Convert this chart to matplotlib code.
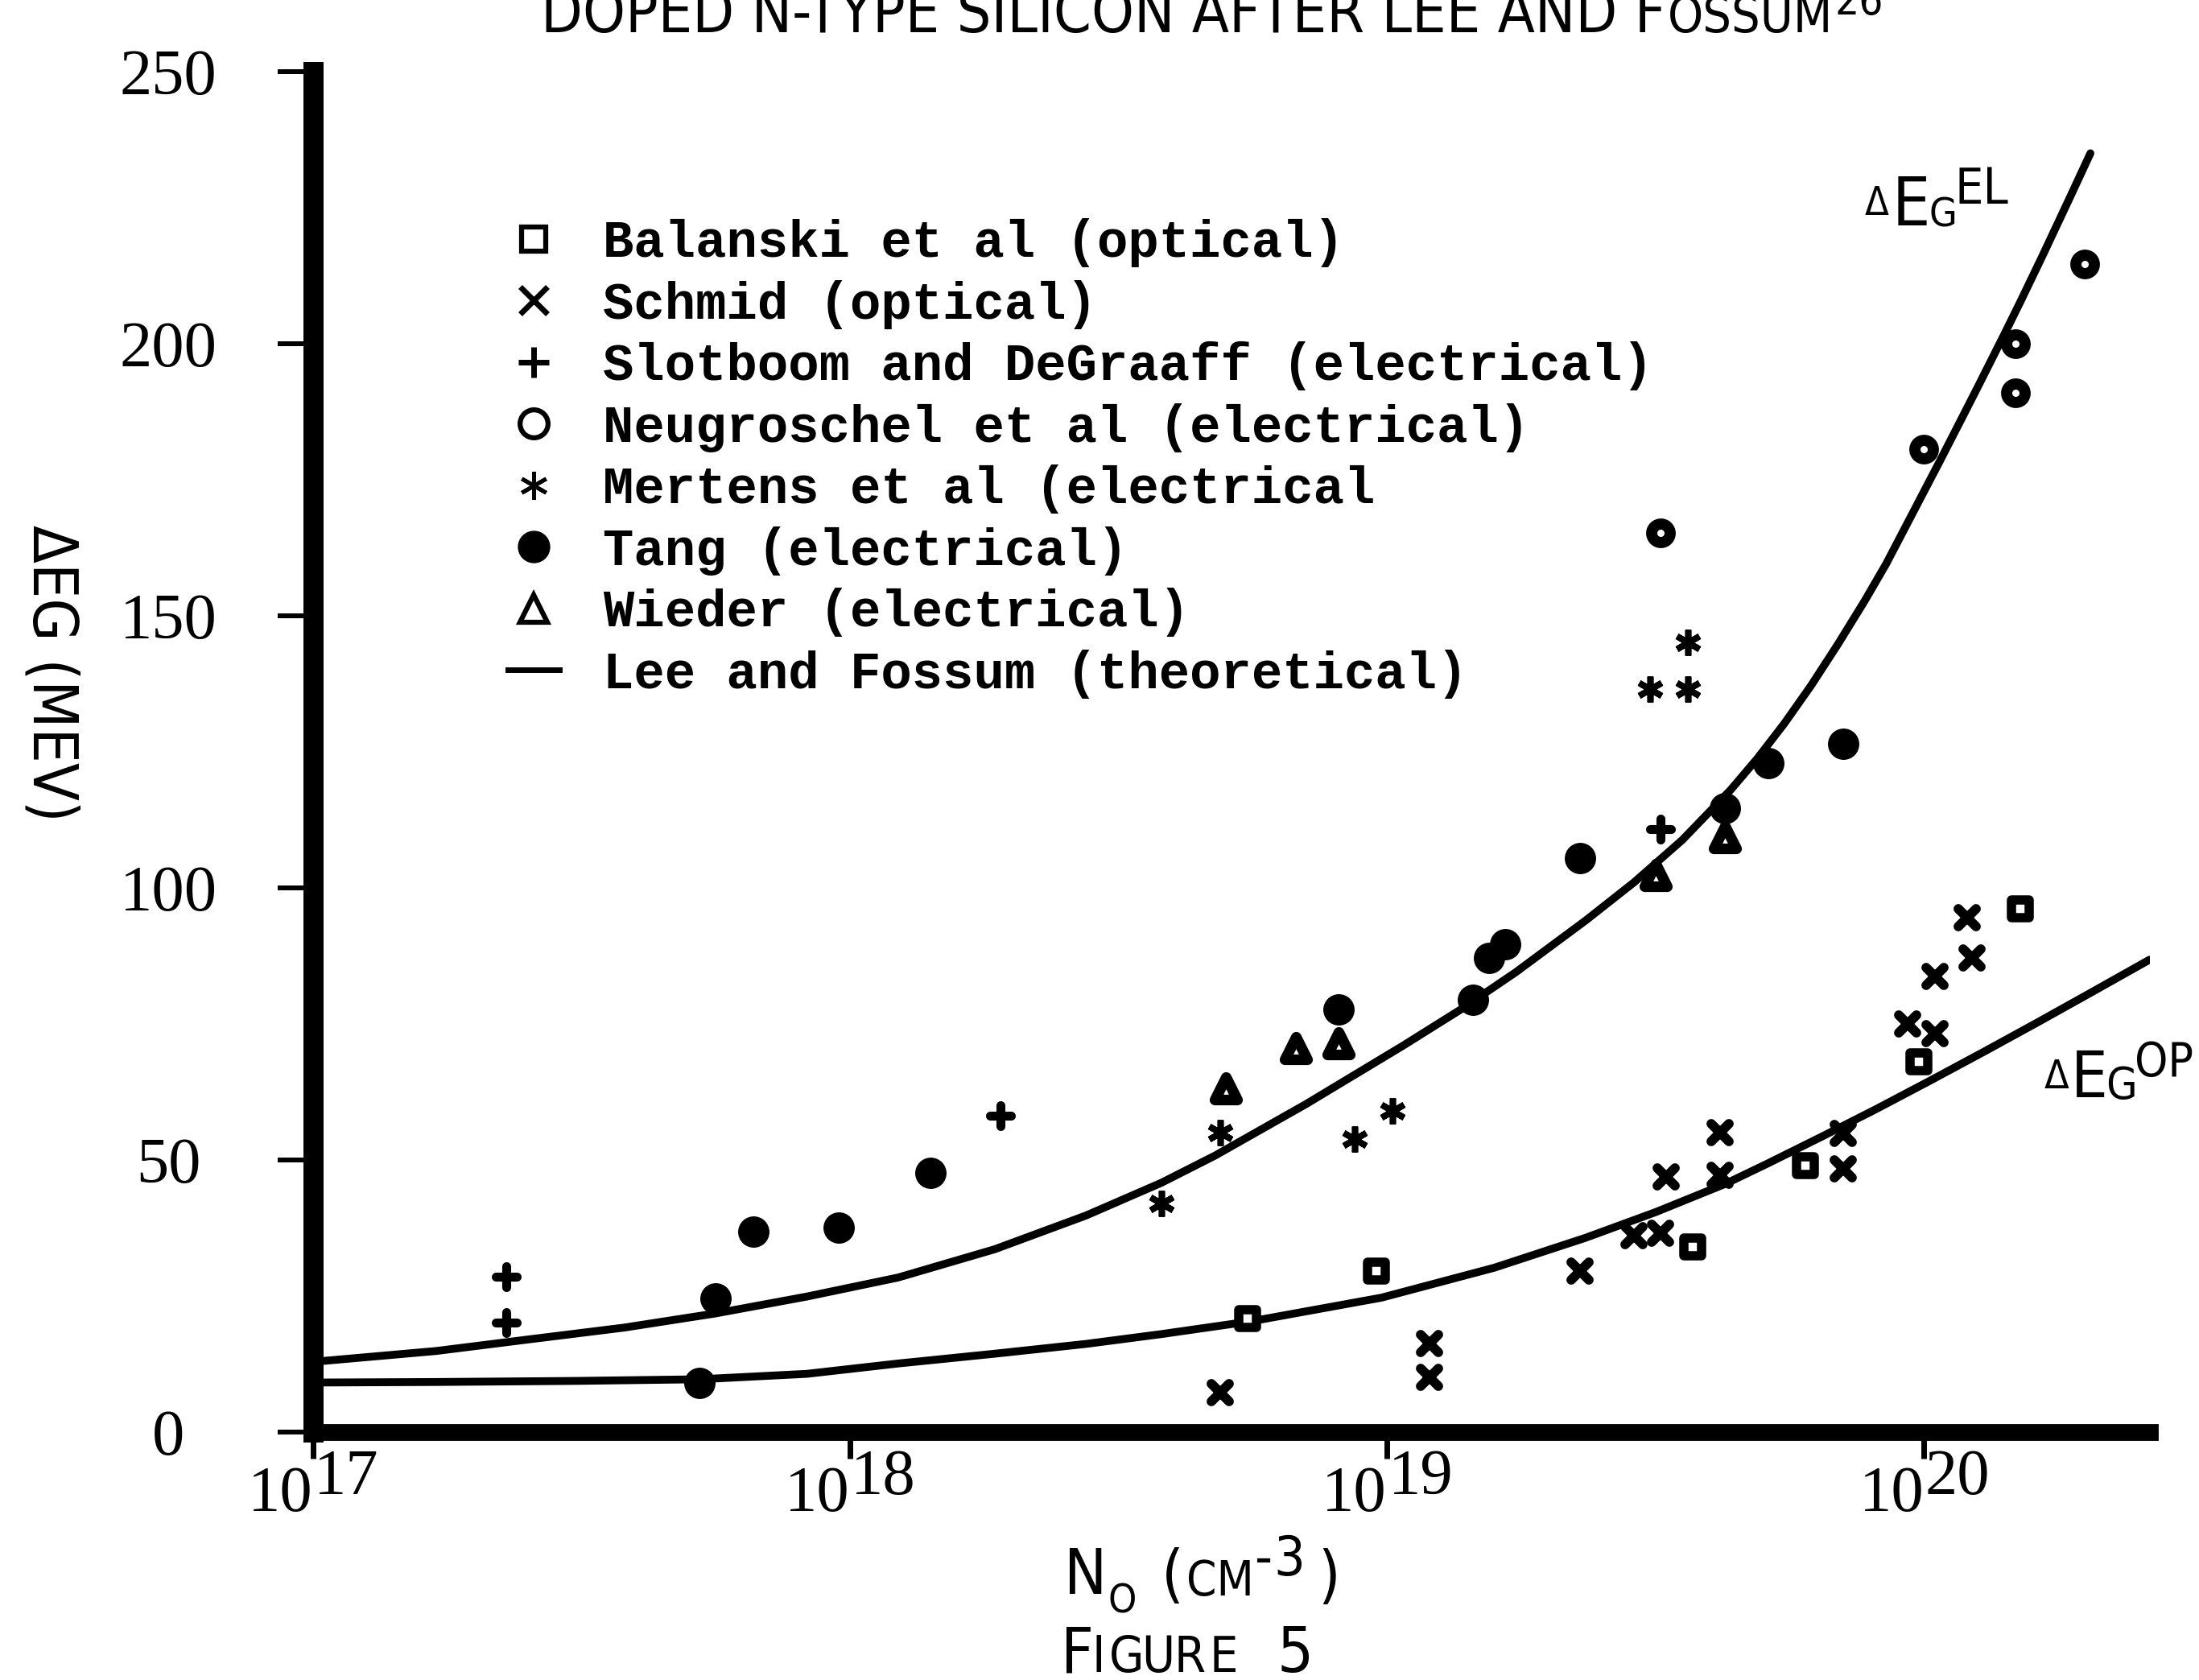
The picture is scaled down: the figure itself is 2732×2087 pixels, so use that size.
import numpy as np
import matplotlib
matplotlib.use("Agg")
import matplotlib.pyplot as plt
from matplotlib import font_manager as fm
from matplotlib.lines import Line2D
from matplotlib.markers import MarkerStyle
from matplotlib.font_manager import FontProperties
from matplotlib.ticker import NullLocator

W, H, DPI = 2732, 2087, 100

# ---------------- data: log10(N_D / cm^-3) and band-gap narrowing (meV) -------------
balanski_log10N = [18.74, 18.98, 19.57, 19.78, 19.99, 20.18]
balanski_dEg = [20.9, 29.6, 34.0, 49.0, 68.0, 96.1]

schmid_log10N = [18.69, 19.08, 19.08, 19.36, 19.46, 19.51, 19.52, 19.62, 19.62,
                 19.85, 19.85, 19.97, 20.02, 20.02, 20.09, 20.08]
schmid_dEg = [7.2, 16.2, 10.1, 29.6, 36.1, 36.6, 46.9, 55.1, 47.2,
              48.4, 54.9, 75.0, 73.2, 83.8, 87.1, 94.6]

slotboom_log10N = [17.36, 17.36, 18.28, 19.51]
slotboom_dEg = [28.6, 20.1, 58.2, 110.8]

neugroschel_log10N = [19.51, 20.00, 20.17, 20.17, 20.30]
neugroschel_dEg = [165.2, 180.6, 200.0, 191.0, 214.7]

mertens_log10N = [19.56, 19.49, 19.56, 18.94, 19.01, 18.69, 18.58]
mertens_dEg = [145.1, 136.6, 136.6, 53.9, 59.0, 55.1, 42.0]

tang_log10N = [17.72, 17.75, 17.82, 17.98, 18.15, 18.91, 19.16, 19.19, 19.22,
               19.36, 19.63, 19.71, 19.85]
tang_dEg = [9.0, 24.5, 36.9, 37.6, 47.7, 77.6, 79.4, 87.1, 89.7,
            105.4, 114.7, 122.9, 126.5]

wieder_log10N = [18.70, 18.83, 18.91, 19.50, 19.63]
wieder_dEg = [63.1, 70.6, 71.4, 102.3, 109.3]

# Lee and Fossum theory curves
el_log10N = [17.00, 17.23, 17.40, 17.58, 17.75, 17.92, 18.09, 18.27, 18.44, 18.58,
             18.68, 18.85, 19.03, 19.14, 19.24, 19.37, 19.46, 19.55, 19.64, 19.69,
             19.74, 19.79, 19.84, 19.89, 19.93, 20.03, 20.07, 20.10, 20.15, 20.18,
             20.22, 20.27, 20.31]
el_dEg = [12.9, 14.9, 17.0, 19.2, 21.8, 24.9, 28.4, 33.6, 39.8, 45.8,
          50.8, 60.3, 71.0, 77.8, 84.5, 94.0, 101.0, 108.8, 118.0, 123.8,
          130.2, 137.2, 144.8, 152.8, 159.6, 178.5, 186.2, 192.0, 201.8, 207.8,
          216.0, 226.5, 235.0]

op_log10N = [17.00, 17.23, 17.49, 17.72, 17.92, 18.09, 18.27, 18.44, 18.58, 18.75,
             18.99, 19.20, 19.37, 19.50, 19.63, 19.71, 19.81, 19.91, 20.01, 20.11,
             20.21, 20.31, 20.42]
op_dEg = [9.1, 9.2, 9.4, 9.7, 10.7, 12.6, 14.4, 16.2, 18.0, 20.4,
          24.7, 30.2, 35.7, 40.4, 45.6, 49.4, 54.3, 59.3, 64.5, 69.8,
          75.2, 80.7, 86.8]

y_ticks = [0, 50, 100, 150, 200, 250]
x_tick_exponents = [17, 18, 19, 20]

legend_labels = ["Balanski et al (optical)", "Schmid (optical)",
                 "Slotboom and DeGraaff (electrical)", "Neugroschel et al (electrical)",
                 "Mertens et al (electrical", "Tang (electrical)",
                 "Wieder (electrical)", "Lee and Fossum (theoretical)"]

# ---------------- fonts ----------------
_names = {f.name for f in fm.fontManager.ttflist}
if "Liberation Sans Narrow" in _names:
    NARROW = dict(fontfamily=["Liberation Sans Narrow", "DejaVu Sans"])
elif any(f.name == "DejaVu Sans" and f.stretch == "condensed" for f in fm.fontManager.ttflist):
    NARROW = dict(fontfamily=["DejaVu Sans"], fontstretch="condensed")
else:
    NARROW = dict(fontfamily=["Liberation Sans", "DejaVu Sans"])
SERIF = ["Liberation Serif", "DejaVu Serif"]
MONO = ["Liberation Mono", "DejaVu Sans Mono"]

# ---------------- figure ----------------
fig = plt.figure(figsize=(W / DPI, H / DPI), dpi=DPI)
fig.patch.set_facecolor("white")
x_left, x_right, y_bottom, y_top = 388.5, 2670.5, 1779, 89
ax = fig.add_axes([x_left / W, (H - y_bottom) / H, (x_right - x_left) / W, (y_bottom - y_top) / H])
ax.set_xscale("log")
ax.set_xlim(1e17, 10 ** 20.42)
ax.set_ylim(0, 250)

def N(a):
    return 10 ** np.asarray(a)

K = "black"
ax.plot(N(el_log10N), el_dEg, color=K, lw=7, solid_capstyle="round",
        solid_joinstyle="round", zorder=2)
ax.plot(N(op_log10N), op_dEg, color=K, lw=7, solid_capstyle="round",
        solid_joinstyle="round", zorder=2)

ax.plot(N(balanski_log10N), balanski_dEg, ls="none",
        marker=MarkerStyle("s", joinstyle="round"), ms=15.5, mew=8.3,
        mfc="white", mec=K, zorder=3)
ax.plot(N(schmid_log10N), schmid_dEg, ls="none",
        marker=MarkerStyle("x", capstyle="round"), ms=16, mew=8.5, mec=K, zorder=3)
ax.plot(N(slotboom_log10N), slotboom_dEg, ls="none",
        marker=MarkerStyle("+", capstyle="round"), ms=19, mew=8, mec=K, zorder=3)
ax.plot(N(neugroschel_log10N), neugroschel_dEg, ls="none", marker="o", ms=16.5, mew=10,
        mfc="white", mec=K, zorder=3)
ax.plot(N(mertens_log10N), mertens_dEg, ls="none",
        marker=MarkerStyle((6, 2, 0), capstyle="round"), ms=23, mew=5.5, mec=K, zorder=3)
ax.plot(N(tang_log10N), tang_dEg, ls="none", marker="o", ms=27, mew=1,
        mfc=K, mec=K, zorder=3)
ax.plot(N(wieder_log10N), wieder_dEg, ls="none",
        marker=MarkerStyle("^", joinstyle="round"), ms=20, mew=9.5,
        mfc="white", mec=K, zorder=3)

# ---------------- axes styling ----------------
for s in ("top", "right"):
    ax.spines[s].set_visible(False)
ax.spines["left"].set_linewidth(18)
ax.spines["bottom"].set_linewidth(15)
ax.spines["left"].set_capstyle("projecting")
ax.spines["bottom"].set_capstyle("projecting")

ax.set_yticks(y_ticks)
ax.set_yticklabels([str(v) for v in y_ticks], fontfamily=SERIF, fontsize=58, ha="center")
ax.tick_params(axis="y", direction="out", length=32, width=4.3, pad=97, color=K)

ax.set_xticks([10.0 ** e for e in x_tick_exponents])
ax.xaxis.set_minor_locator(NullLocator())
ax.set_xticklabels(["10"] * len(x_tick_exponents), fontfamily=SERIF, fontsize=58, ha="right")
ax.tick_params(axis="x", direction="out", length=24, width=5, pad=6, color=K)
for e in x_tick_exponents:
    ax.annotate(str(e), xy=(10.0 ** e, 0), xycoords=("data", "axes fraction"),
                xytext=(1, -15), textcoords="offset points", ha="left", va="top",
                fontfamily=SERIF, fontsize=58, annotation_clip=False)

# ---------------- legend ----------------
handles = [
    Line2D([], [], ls="none", marker="s", ms=21, mew=4.5, mfc="white", mec=K),
    Line2D([], [], ls="none", marker="x", ms=24, mew=5, mec=K),
    Line2D([], [], ls="none", marker="+", ms=27, mew=5, mec=K),
    Line2D([], [], ls="none", marker="o", ms=25, mew=4.5, mfc="white", mec=K),
    Line2D([], [], ls="none", marker=(6, 2, 0), ms=25, mew=3.5, mec=K),
    Line2D([], [], ls="none", marker="o", ms=28, mfc=K, mec=K),
    Line2D([], [], ls="none", marker="^", ms=24, mew=4.5, mfc="white", mec=K),
    Line2D([], [], color=K, lw=5),
]
leg = ax.legend(handles, legend_labels, loc="upper left",
                bbox_to_anchor=(631 / W, 1 - 271 / H), bbox_transform=fig.transFigure,
                frameon=False, prop=FontProperties(family=MONO, weight="bold", size=46),
                handlelength=1.0, handletextpad=0.85, labelspacing=0.243,
                borderpad=0, borderaxespad=0, numpoints=1)

# ---------------- lettering ----------------
renderer = fig.canvas.get_renderer()

def put(text, x, base, size, **kw):
    return fig.text(x / W, 1 - base / H, text, fontsize=size, ha="left", va="baseline",
                    color=K, **NARROW, **kw)

def right_edge(t):
    return t.get_window_extent(renderer=renderer).x1

def run(pieces, x0, base):
    x = x0
    for text, size, dy, gap in pieces:
        t = put(text, x + gap, base + dy, size)
        x = right_edge(t)

# title (cut off at the top like the scan)
run([("DOPED N-TYPE SILICON AFTER LEE AND F", 54, 0, 0), ("OSSUM", 45, 0, 2),
     ("26", 38, -22, 3)], 672, 40)

# curve labels
run([("\u0394", 35, -13, 0), ("E", 60, 0, 4), ("G", 36, 2, -2), ("EL", 45, -27, -2)], 2317, 280)
run([("\u0394", 36, -11, 0), ("E", 58, 0, 2), ("G", 40, 2, -2), ("OP", 42, -26, -3)], 2540, 1363)

# x label
tN = put("N", 1322, 1980, 57)
put("O", max(1360, right_edge(tN) + 1), 2004, 36)
put("(", 1443, 1982, 57)
tCM = put("CM", 1474, 1982, 43)
tm = put("-", max(1552, right_edge(tCM) + 1), 1957, 49)
t3 = put("3", max(1582, right_edge(tm) + 1), 1957, 49)
put(")", max(1637, right_edge(t3) + 1), 1983, 57)

# figure caption
put("F", 1318, 2077, 57)
for ch, xx in zip("IGURE", [1357, 1378, 1418, 1458, 1503]):
    put(ch, xx, 2077, 45)
put("5", 1587, 2077, 57)

# y label
fig.text(62 / W, 1 - 836 / H, "\u0394EG (MEV)", rotation=270, ha="center", va="center",
         fontsize=55, color=K, **NARROW)

fig.savefig("out.png", dpi=DPI, facecolor="white")
